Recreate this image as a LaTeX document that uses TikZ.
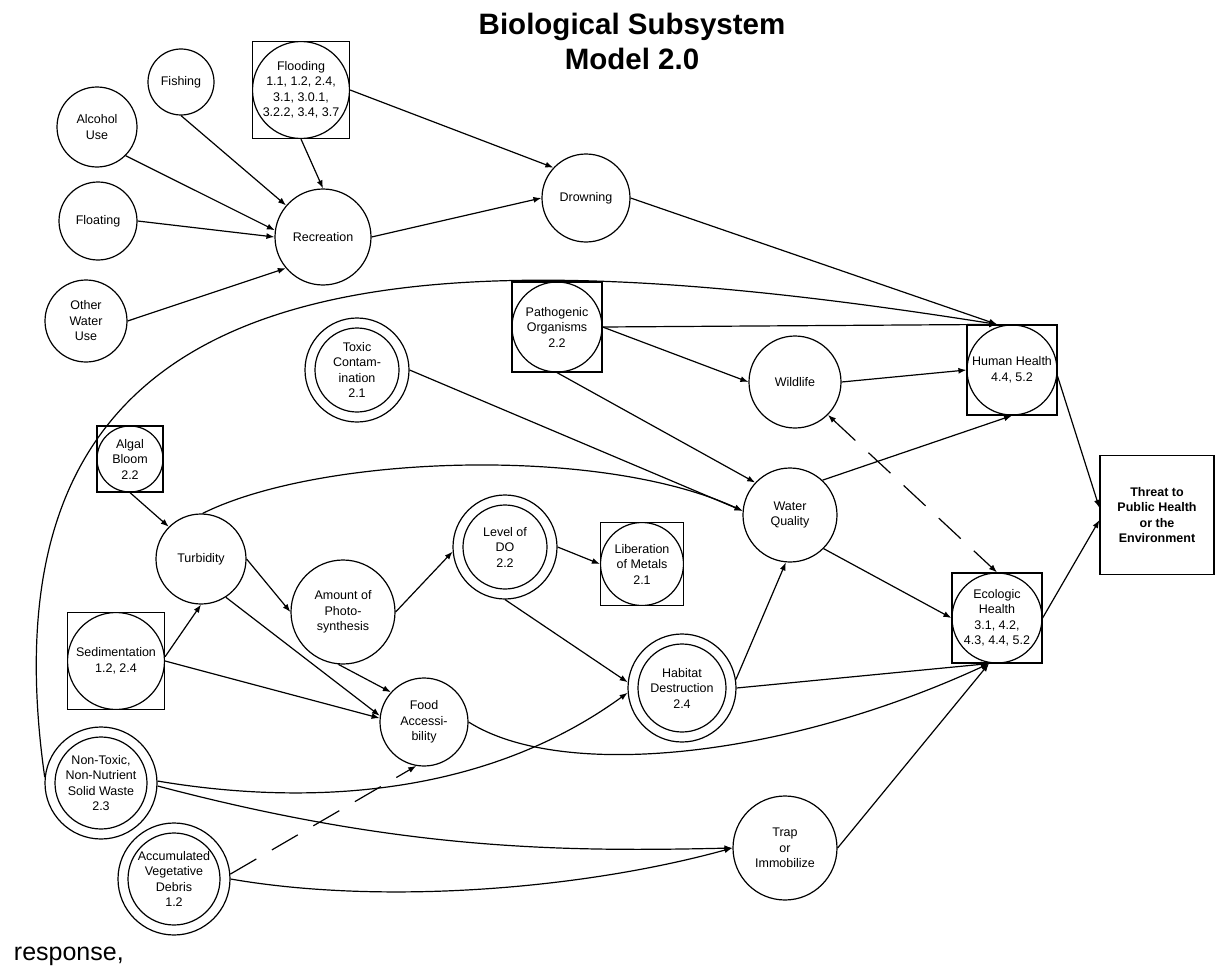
\documentclass[tikz,border=0pt]{standalone}
\usepackage{fontspec}
\setmainfont{Liberation Sans}
\usetikzlibrary{arrows.meta}
\tikzset{
    factor/.style={circle, draw, minimum size=#1, inner sep=0pt, align=center, font=\fontsize{12.5}{15.5}\selectfont},
    keyfactor/.style={factor=#1, path picture={\draw (path picture bounding box.center) circle[radius=#1/2-10pt];}},
    boxfactor/.style={rectangle, draw, minimum size=#1, inner sep=0pt, align=center, font=\fontsize{12.5}{15.5}\selectfont,
        path picture={\draw (path picture bounding box.center) circle[radius=#1/2];}},
    arr/.style={-{Latex[length=8pt,width=6pt]}},
    dasharr/.style={arr, dash pattern=on 30pt off 18pt},
    twoarr/.style={{Latex[length=8pt,width=6pt]}-{Latex[length=8pt,width=6pt]}, dash pattern=on 30pt off 18pt},
}

\begin{document}
\begin{tikzpicture}[x=1pt, y=-1pt, line width=1.2pt]
                 \useasboundingbox (0,0) rectangle (1216,966);
                 \fill[white] (0,0) rectangle (1216,966);

                 \node[font=\bfseries\fontsize{29.5}{35}\selectfont, anchor=base] (title) at (632,35) {Biological Subsystem};
                 \node[font=\bfseries\fontsize{29.5}{35}\selectfont, anchor=base] (model) at (632,70) {Model 2.0};
                 \node[font=\fontsize{25}{30}\selectfont, anchor=base west] (response) at (10,960) {response,};

                 % recreation cluster
                 \node[factor=66pt] (fishing) at (181,82) {Fishing};
                 \node[factor=80pt] (alcohol) at (97,127) {Alcohol\\Use};
                 \node[factor=78pt] (floating) at (98,221) {Floating};
                 \node[factor=82pt] (otherwater) at (86,321) {Other\\Water\\Use};
                 \node[boxfactor=97pt] (flooding) at (301,90) {Flooding\\1.1, 1.2, 2.4,\\3.1, 3.0.1,\\3.2.2, 3.4, 3.7};
                 \node[factor=96pt] (recreation) at (323,237) {Recreation};
                 \node[factor=88pt] (drowning) at (586,198) {Drowning};

                 \node[boxfactor=90pt] (pathogen) at (557,327) {Pathogenic\\Organisms\\2.2};
                 \node[keyfactor=104pt] (toxic) at (357,370) {Toxic\\Contam-\\ination\\2.1};
                 \node[factor=92pt] (wildlife) at (795,382) {Wildlife};
                 \node[boxfactor=90pt] (human) at (1012,370) {Human Health\\4.4, 5.2};
                 \node[draw, minimum width=114pt, minimum height=119pt, align=center,
                       font=\bfseries\fontsize{12.5}{15.5}\selectfont] (threat) at (1157,515) {Threat to\\Public Health\\or the\\Environment};
                 \node[factor=94pt] (water) at (790,515) {Water\\Quality};
                 \node[boxfactor=90pt] (ecologic) at (997,618) {Ecologic\\Health\\3.1, 4.2,\\4.3, 4.4, 5.2};

                 % water column
                 \node[boxfactor=66pt] (algal) at (130,459) {Algal\\Bloom\\2.2};
                 \node[factor=90pt] (turbidity) at (201,559) {Turbidity};
                 \node[boxfactor=97pt] (sediment) at (116,661) {Sedimentation\\1.2, 2.4};
                 \node[factor=104pt] (photo) at (343,612) {Amount of\\Photo-\\synthesis};
                 \node[keyfactor=104pt] (levelDO) at (505,547) {Level of\\DO\\2.2};
                 \node[boxfactor=83pt] (liberation) at (642,564) {Liberation\\of Metals\\2.1};
                 \node[factor=88pt] (food) at (424,722) {Food\\Accessi-\\bility};
                 \node[keyfactor=108pt] (habitat) at (682,688) {Habitat\\Destruction\\2.4};
                 \node[keyfactor=112pt] (nontox) at (101,783) {Non-Toxic,\\Non-Nutrient\\Solid Waste\\2.3};
                 \node[keyfactor=112pt] (debris) at (174,879) {Accumulated\\Vegetative\\Debris\\1.2};
                 \node[factor=104pt] (trap) at (785,848) {Trap\\or\\Immobilize};

                 \draw[arr] (fishing.south) -- (recreation);
                 \draw[arr] (alcohol.-45) -- (recreation.172);
                 \draw[arr] (floating.east) -- (recreation.west);
                 \draw[arr] (otherwater.east) -- (recreation.220);
                 \draw[arr] (flooding.south) -- (recreation.north);
                 \draw[arr] (flooding.east) -- (drowning.137);
                 \draw[arr] (recreation.east) -- (drowning.west);
                 \draw[arr] (drowning.east) -- (human.108);
                 \draw[arr] (nontox.174) .. controls (-30,250) and (400,230) .. (human.108);

                 \draw[arr] (pathogen.east) -- (human.108);
                 \draw[arr] (pathogen.east) -- (wildlife.west);
                 \draw[arr] (pathogen.south) -- (water.137);
                 \draw[arr] (toxic.east) -- (water.175);
                 \draw[arr] (wildlife.east) -- (human.west);
                 \draw[arr] (water.47) -- (human.south);
                 \draw[arr] (water.-45) -- (ecologic.west);
                 \draw[twoarr] (wildlife.-45) -- (ecologic.north);
                 \draw[arr] (human.-8) -- (threat.173);
                 \draw[arr] (ecologic.east) -- (threat.185);

                 \draw[arr] (algal.south) -- (turbidity.135);
                 \draw[arr] (sediment.5) -- (turbidity.south);
                 \draw[arr] (sediment.east) -- (food.175);
                 \draw[arr] (turbidity.east) -- (photo.west);
                 \draw[arr] (turbidity.88) .. controls (320,455) and (600,445) .. (water.175);
                 \draw[arr] (turbidity.-57) -- (food.172);
                 \draw[arr] (photo.-95) -- (food.138);
                 \draw[arr] (photo.east) -- (levelDO.185);
                 \draw[arr] (levelDO.east) -- (liberation.west);
                 \draw[arr] (levelDO.south) -- (habitat.174);
                 \draw[arr] (food.east) .. controls (560,780) and (780,760) .. (ecologic.-100);
                 \draw[arr] (habitat.9) -- (water.-95);
                 \draw[arr] (habitat.east) -- (ecologic.-100);

                 \draw[arr] (nontox.2) .. controls (300,805) and (480,800) .. (habitat.185);
                 \draw[arr] (nontox.-3) .. controls (400,850) and (560,852) .. (trap.west);
                 \draw[arr] (debris.east) .. controls (380,905) and (580,890) .. (trap.west);
                 \draw[dasharr] (debris.5) -- (food.-100);
                 \draw[arr] (trap.east) -- (ecologic.-100);
\end{tikzpicture}
\end{document}
